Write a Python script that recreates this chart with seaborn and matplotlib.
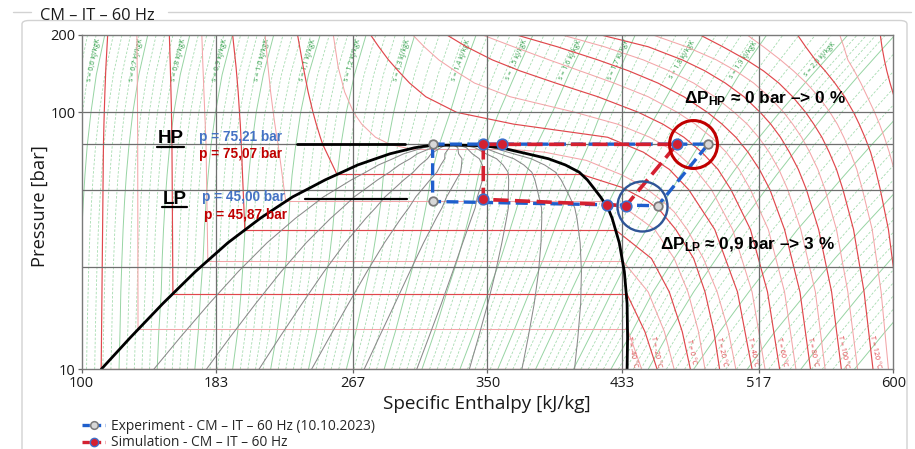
import numpy as np
import pandas as pd
import matplotlib
matplotlib.use("Agg")
import matplotlib.pyplot as plt
import seaborn as sns
from matplotlib.lines import Line2D
from matplotlib.patches import FancyBboxPatch

# ---------------------------------------------------------------- cycle data
exp_h = [316.2, 486.0, 454.9, 316.2, 316.2]
exp_p = [75.21, 75.21, 43.3, 45.00, 75.21]
sim_h = [347.4, 347.4, 423.4, 435.3, 466.6, 358.7, 347.4]
sim_p = [75.07, 45.87, 43.75, 43.3, 75.07, 75.07, 75.07]
exp_marked = 4          # corner points carrying a marker
sim_marked = 6

# ------------------------------------------------------- saturation dome CO2
sat_p = [10, 13.3, 18.03, 23.99, 31.05, 38.7, 42.5, 46.9, 50.5, 54.6, 58.5, 62.4,
         66, 69.0, 71.2, 72.8, 73.8, 74.3, 74.6]
sat_hl = [112, 130, 150, 170, 190, 210, 219.7, 230, 239.8, 250, 260.4, 270,
          281.1, 290, 298.8, 305, 311, 315, 330]
sat_hv = [436, 436.3, 436, 434.3, 431.2, 426.8, 424.2, 419.6, 415.7, 411.5, 406.5, 398,
          387.5, 374.4, 365, 358.5, 350, 343, 330]
quality = [0.1, 0.2, 0.3, 0.4, 0.5, 0.6, 0.7, 0.8, 0.9]

# ------------------------------------------------- isotherms (subcritical)
sub_T = [-40, -30, -20, -10, 0, 10, 20, 30]
sub_psat = [10.0, 14.3, 19.7, 26.5, 34.85, 45.0, 57.3, 72.1]
sub_hl = [112, 134.7, 156.2, 177.7, 200.5, 225.7, 257.3, 302.3]
sub_hv = [436, 436.3, 435.8, 433.1, 428.9, 421.5, 408, 361.2]
liq_p = [75, 80, 90, 100, 120, 150, 200]
liq_h = [
    [113.4, 113.5, 113.7, 113.9, 114.3, 114.9, 116.0],
    [134.5, 134.5, 134.4, 134.4, 134.3, 134.2, 134.0],
    [155.6, 155.5, 155.4, 155.3, 155.0, 154.6, 154.0],
    [176.6, 176.4, 176.1, 175.8, 175.3, 174.7, 174.0],
    [198.3, 198.1, 197.7, 197.2, 196.4, 195.1, 193.0],
    [221.0, 220.2, 219.0, 218.0, 216.4, 214.8, 213.0],
    [248.5, 247.0, 244.5, 242.5, 239.5, 236.5, 233.0],
    [290.0, 281.0, 272.5, 267.5, 262.0, 258.0, 255.0],
]
vap_p = [10, 14, 20, 27, 35, 41, 45, 51, 57, 65, 70]
nan = np.nan
vap_h = [
    [nan] * 11,
    [445, nan, nan, nan, nan, nan, nan, nan, nan, nan, nan],
    [454.5, 447, nan, nan, nan, nan, nan, nan, nan, nan, nan],
    [465, 459, 449, nan, nan, nan, nan, nan, nan, nan, nan],
    [475, 470, 462, 451, nan, nan, nan, nan, nan, nan, nan],
    [484, 480, 473.5, 465, 453, 438, nan, nan, nan, nan, nan],
    [493, 489.5, 484, 477, 466, 457, 449, 433, nan, nan, nan],
    [503, 498.5, 491.5, 483, 473, 465, 458, 447, 433, 411, 385],
]

# ----------------------------------------------- isotherms (supercritical)
sc_T = [40, 50, 60, 70, 80, 90, 100, 110, 120, 130, 140, 150, 160]
sc_p = [10, 20, 35, 50, 60, 70, 80, 90, 100, 115, 130, 145, 160, 180, 200]
sc_h = [
    [513, 504, 490, 474, 462, 446, 424, 366, 331, 312, 302, 295, 289, 283, 278],
    [521, 513, 501, 488, 478, 466, 450, 430, 404, 364, 342, 330, 320, 311, 304],
    [530, 522.5, 512, 500, 492, 482, 471, 458, 443, 418, 392, 370, 353, 337, 325],
    [540, 533, 523, 512, 505, 497, 488, 478, 467, 449, 428, 407, 388, 366, 347],
    [549, 542.5, 533, 524, 517.5, 510.5, 503, 494.5, 485.5, 471, 455, 437, 418, 393, 368],
    [558, 552, 543, 535, 529.5, 523.5, 517, 510, 502, 490, 477, 462, 446, 422, 396],
    [568, 562, 554, 546.5, 541.5, 536, 530.5, 524.5, 518, 508, 496.5, 484, 470, 449, 420],
    [578, 572, 565, 558, 553.5, 548.5, 543.5, 538, 532.5, 523.5, 514, 503, 491, 472.5, 452],
    [587.5, 582, 575.5, 569, 565, 560.5, 556, 551, 546, 538, 529.5, 520, 509.5, 495, 481],
    [597, 592.5, 587, 581, 577.5, 573.5, 569.5, 565.5, 561, 554, 546.5, 538.5, 530.5, 520, 510],
    [606, 602, 597, 592, 589, 586, 582.5, 579, 575.5, 570, 564, 558, 552, 546, 541],
    [616, 612, 607.5, 603, 600.5, 597.5, 594.5, 591.5, 588.5, 584, 580, 576, 572, 569.5, 567],
    [625, 622, 618.5, 615.5, 613.5, 611, 608.5, 606, 603.5, 600.5, 598, 596, 594.5, 593, 592],
]
t_label_T = [-40, -20, 0, 20, 40, 60, 80, 100, 120]

# ----------------------------------------------------------------- isentropes
s_major = [0.6, 0.7, 0.8, 0.9, 1.0, 1.1, 1.2, 1.3, 1.4, 1.5, 1.6, 1.7, 1.8,
           1.9, 2.0, 2.1, 2.2, 2.3, 2.4, 2.5]
s_label_max = 2.0
s_p = [10, 14, 20, 27, 35, 45, 57, 74, 100, 140, 200]
s_h = [
    [98, 98.3, 98.9, 99.4, 100.1, 101, 102, 103.4, 105.7, 109, 114.2],
    [123, 123.6, 124.1, 124.8, 125.5, 126.4, 127.5, 129.1, 131.5, 135.2, 140.7],
    [146.5, 147.5, 149, 149.6, 150.4, 151.4, 152.6, 154.2, 156.8, 160.7, 166.6],
    [169.7, 171.8, 173.3, 174.8, 175.6, 176.6, 177.9, 179.6, 182.4, 186.5, 192.8],
    [193, 196.1, 198.2, 199.6, 200.6, 201.6, 202.9, 204.7, 207.5, 211.9, 218.3],
    [216.4, 220.4, 223.6, 226.1, 227.3, 228.2, 229.6, 231.8, 234.9, 239.7, 246.9],
    [239.7, 244.6, 248.9, 252.5, 254.6, 256.1, 257.4, 259.6, 263, 268, 275.2],
    [263, 268.9, 274.3, 279, 281.9, 284.4, 285.9, 288.2, 292.2, 297.7, 305.2],
    [286.3, 293.2, 299.7, 305.4, 309.3, 312.7, 315.4, 320, 327, 334, 343],
    [309.6, 317.5, 325, 331.8, 336.6, 341, 344.4, 349, 357, 367, 378],
    [333, 341.8, 350.5, 358.2, 363.9, 369.3, 373.7, 380, 390, 400, 412],
    [356.3, 366, 375.9, 384.6, 391.2, 397.6, 404, 412, 420, 430, 441],
    [379.6, 390.4, 401.3, 411, 418.5, 425, 433, 443, 455, 468, 483],
    [402.9, 414.6, 426.6, 437, 448, 459, 469, 480, 491, 505, 522],
    [426, 439, 452, 465, 477, 489, 500, 513, 530, 550, 572],
    [449, 462, 477, 491, 503, 516, 528, 542, 559, 579, 601],
    [477, 493, 511, 527, 541, 556, 570, 586, 605, 627, 650],
    [510, 527, 547, 564, 580, 596, 611, 628, 648, 671, 696],
    [543, 561, 581, 599, 616, 633, 649, 667, 689, 713, 740],
    [576, 595, 616, 635, 653, 671, 688, 707, 730, 755, 783],
]

# ------------------------------------------------------------------- axes
h_ticks = [100, 183, 267, 350, 433, 517, 600]
p_ticks = [10, 100, 200]
h_grid = [183, 267, 350, 433, 517]
p_grid = [25, 50, 75, 100]

BLUE = "#1f5fcc"
RED = "#d42030"
TXT_BLUE = "#4472c4"
TXT_RED = "#c00000"
ISO_DARK = "#e0474c"
ISO_LIGHT = "#f3a5a8"
S_DARK = "#52b866"
S_LIGHT = "#a6dcb0"

sns.set_theme(style="white")
plt.rcParams["font.family"] = ["Open Sans", "DejaVu Sans"]
plt.rcParams["mathtext.fontset"] = "custom"
plt.rcParams["mathtext.rm"] = "Liberation Sans"
plt.rcParams["mathtext.bf"] = "Liberation Sans:bold"
plt.rcParams["mathtext.it"] = "Liberation Sans:italic"

W, H = 915, 449
fig = plt.figure(figsize=(W / 100, H / 100), dpi=100)
fig.patch.set_facecolor("white")


def fx(x):
    return x / W


def fy(y):
    return 1 - y / H


ax = fig.add_axes([fx(81.7), fy(369.3), (893.3 - 81.7) / W, (369.3 - 35) / H])
ax.set_yscale("log")
ax.set_xlim(100, 600)
ax.set_ylim(10, 200)
ax.set_facecolor("white")

# --- isentropes: labelled lines solid, four thin dashed ones in between
s_h_arr = np.array(s_h)
for k, s in enumerate(s_major):
    ax.plot(s_h_arr[k], s_p, color=S_DARK, lw=0.7, alpha=0.6, zorder=1)
    if k + 1 < len(s_major):
        for j in range(1, 5):
            hh = s_h_arr[k] + j / 5 * (s_h_arr[k + 1] - s_h_arr[k])
            ax.plot(hh, s_p, color=S_LIGHT, lw=0.6, ls=(0, (3, 2)), zorder=1)
for j in range(1, 4):
    hh = s_h_arr[0] - j / 5 * (s_h_arr[1] - s_h_arr[0])
    ax.plot(hh, s_p, color=S_LIGHT, lw=0.6, ls=(0, (3, 2)), zorder=1)


def local_angle(h_arr, p_arr, p0, dp=1.12):
    lp = np.log10(p_arr)
    h1 = np.interp(np.log10(p0 / dp), lp, h_arr)
    h2 = np.interp(np.log10(p0 * dp), lp, h_arr)
    a = ax.transData.transform([(h1, p0 / dp), (h2, p0 * dp)])
    d = a[1] - a[0]
    return np.degrees(np.arctan2(d[1], d[0]))


for k, s in enumerate(s_major):
    if s > s_label_max + 1e-9:
        continue
    p0 = 160
    h0 = np.interp(np.log10(p0), np.log10(s_p), s_h_arr[k])
    ang = local_angle(s_h_arr[k], s_p, p0)
    txt = f"s = {s:.1f} kJ/kgK".replace(".", ",")
    ax.annotate(txt, xy=(h0, p0), xytext=(-4, 0), textcoords="offset points",
                rotation=ang, rotation_mode="anchor", ha="center", va="center",
                fontsize=5.1, color="#2f9e48", zorder=2, annotation_clip=False)

# --- isotherms
liq_h_arr = np.array(liq_h)
vap_h_arr = np.array(vap_h, dtype=float)
for i, T in enumerate(sub_T):
    col, lw = (ISO_DARK, 0.85) if T % 20 == 0 else (ISO_LIGHT, 0.75)
    lp = [sub_psat[i]] + liq_p
    lh = [sub_hl[i]] + list(liq_h_arr[i])
    ax.plot(lh, lp, color=col, lw=lw, zorder=2)
    ax.plot([sub_hl[i], sub_hv[i]], [sub_psat[i], sub_psat[i]], color=col, lw=lw, zorder=2)
    mask = ~np.isnan(vap_h_arr[i])
    vp = [sub_psat[i]] + [p for p, m in zip(vap_p[::-1], mask[::-1]) if m]
    vh = [sub_hv[i]] + [h for h, m in zip(vap_h_arr[i][::-1], mask[::-1]) if m]
    ax.plot(vh, vp, color=col, lw=lw, zorder=2)

sc_h_arr = np.array(sc_h)
for i, T in enumerate(sc_T):
    col, lw = (ISO_DARK, 0.85) if T % 20 == 0 else (ISO_LIGHT, 0.75)
    ax.plot(sc_h_arr[i], sc_p, color=col, lw=lw, zorder=2)

# isotherm labels near the bottom edge
p_lab = 11.7
for T in t_label_T:
    if T in sub_T:
        i = sub_T.index(T)
        if T == -40:
            h0 = sub_hv[i]
        else:
            mask = ~np.isnan(vap_h_arr[i])
            pp = [p for p, m in zip(vap_p, mask) if m] + [sub_psat[i]]
            hh = [h for h, m in zip(vap_h_arr[i], mask) if m] + [sub_hv[i]]
            h0 = np.interp(np.log10(p_lab), np.log10(pp), hh)
    else:
        i = sc_T.index(T)
        h0 = np.interp(np.log10(p_lab), np.log10(sc_p), sc_h_arr[i])
    ax.annotate(f"T = {T} °C", xy=(h0, p_lab), xytext=(3, 0), textcoords="offset points",
                rotation=-78, rotation_mode="anchor", ha="center", va="center",
                fontsize=5.1, color=ISO_DARK, zorder=2)

# --- quality lines and saturation dome
hl = np.array(sat_hl)
hv = np.array(sat_hv)
for q in quality:
    ax.plot(hl + q * (hv - hl), sat_p, color="#8a8a8a", lw=0.75, zorder=3)
dome_h = list(sat_hl) + list(sat_hv[::-1])
dome_p = list(sat_p) + list(sat_p[::-1])
ax.plot(dome_h, dome_p, color="black", lw=2.0, zorder=4, solid_joinstyle="round")

# --- grid
for h in h_grid:
    ax.axvline(h, color="#6f6f6f", lw=0.9, zorder=3.5)
for p in p_grid:
    ax.axhline(p, color="#6f6f6f", lw=0.9, zorder=3.5)

# --- refrigeration cycles
cycle = pd.concat([
    pd.DataFrame({"h": exp_h, "p": exp_p, "run": "Experiment", "step": range(len(exp_h))}),
    pd.DataFrame({"h": sim_h, "p": sim_p, "run": "Simulation", "step": range(len(sim_h))}),
], ignore_index=True)
sns.lineplot(data=cycle[cycle.run == "Experiment"], x="h", y="p", sort=False, estimator=None,
             color=BLUE, lw=2.4, dashes=False, ax=ax, legend=False, zorder=6)
ax.lines[-1].set_dashes((3.6, 1.6))
sns.lineplot(data=cycle[cycle.run == "Simulation"], x="h", y="p", sort=False, estimator=None,
             color=RED, lw=2.6, dashes=False, ax=ax, legend=False, zorder=6.2)
ax.lines[-1].set_dashes((4.2, 1.8))

exp_pts = cycle[cycle.run == "Experiment"].head(exp_marked)
sim_pts = cycle[cycle.run == "Simulation"].head(sim_marked)
sns.scatterplot(data=exp_pts, x="h", y="p", s=38, color="#d8d8d8", edgecolor="#7a7a7a",
                linewidth=1.3, ax=ax, legend=False, zorder=7)
sns.scatterplot(data=sim_pts, x="h", y="p", s=58, color=RED, edgecolor="#3d6fc9",
                linewidth=1.2, ax=ax, legend=False, zorder=7.2)

# highlight circles around the compressor outlet / inlet states
hp_c = ((exp_h[1] + sim_h[4]) / 2, (exp_p[1] + sim_p[4]) / 2)
lp_c = ((exp_h[2] + sim_h[3]) / 2, (exp_p[2] + sim_p[3]) / 2)
ax.plot([hp_c[0]], [hp_c[1]], marker="o", ms=34.5, mfc="none", mec="#c00000", mew=2.2, zorder=8)
ax.plot([lp_c[0]], [lp_c[1]], marker="o", ms=36, mfc="none", mec="#2f5597", mew=1.7, zorder=8)

# pressure level markers next to the HP / LP labels
ax.plot([232.6, 299.2], [exp_p[0], exp_p[0]], color="black", lw=2.0, zorder=5)
ax.plot([237.6, 300.4], [sim_p[1], sim_p[1]], color="black", lw=1.6, zorder=5)

# --- ticks, spines, labels
ax.set_xticks(h_ticks)
ax.set_xticklabels([str(t) for t in h_ticks])
ax.set_yticks(p_ticks)
ax.set_yticklabels([str(t) for t in p_ticks])
ax.yaxis.set_minor_locator(matplotlib.ticker.NullLocator())
ax.tick_params(axis="both", which="major", length=3, width=0.9, color="#666666",
               labelsize=10.5, labelcolor="#1a1a1a", pad=1.5, direction="out")
ax.tick_params(left=True, bottom=True)
for sp in ax.spines.values():
    sp.set_color("#7a7a7a")
    sp.set_linewidth(1.0)
    sp.set_zorder(9)

ax.set_xlabel("Specific Enthalpy [kJ/kg]", fontsize=13.6, color="#1a1a1a")
ax.set_ylabel("Pressure [bar]", fontsize=13.2, color="#1a1a1a")
ax.xaxis.set_label_coords(0.4988, -0.104)
ax.xaxis.label.set_va("center")
ax.yaxis.set_label_coords(-0.0514, 0.488)
ax.yaxis.label.set_va("center")

# --- annotations
BF = "Liberation Sans"
fig.text(fx(158), fy(143), "HP", fontsize=13.5, weight="bold", family=BF, color="black",
         ha="left", va="baseline")
fig.text(fx(163), fy(204), "LP", fontsize=13.5, weight="bold", family=BF, color="black",
         ha="left", va="baseline")
fig.add_artist(Line2D([fx(157), fx(184)], [fy(146.5), fy(146.5)], color="black", lw=1.6))
fig.add_artist(Line2D([fx(162), fx(187)], [fy(207), fy(207)], color="black", lw=1.6))

fig.text(fx(199.3), fy(141.5), f"p = {exp_p[0]:.2f} bar".replace(".", ","), fontsize=9.8,
         weight="bold", family=BF, color=TXT_BLUE, ha="left", va="baseline")
fig.text(fx(199.3), fy(158), f"p = {sim_p[0]:.2f} bar".replace(".", ","), fontsize=9.8,
         weight="bold", family=BF, color=TXT_RED, ha="left", va="baseline")
fig.text(fx(201.7), fy(201), f"p = {exp_p[3]:.2f} bar".replace(".", ","), fontsize=9.8,
         weight="bold", family=BF, color=TXT_BLUE, ha="left", va="baseline")
fig.text(fx(204), fy(218.5), f"p = {sim_p[1]:.2f} bar".replace(".", ","), fontsize=9.8,
         weight="bold", family=BF, color=TXT_RED, ha="left", va="baseline")

fig.text(fx(684), fy(103.5), r"$\mathbf{\Delta P}_{\mathbf{HP}}$" + " ≈ 0 bar –> 0 %",
         fontsize=12.4, weight="bold", family=BF, color="black", ha="left", va="baseline")
fig.text(fx(660), fy(249.5), r"$\mathbf{\Delta P}_{\mathbf{LP}}$" + " ≈ 0,9 bar –> 3 %",
         fontsize=12.4, weight="bold", family=BF, color="black", ha="left", va="baseline")

# --- legend
handles = [
    Line2D([0], [0], color=BLUE, lw=2.4, dashes=(2.2, 1.2), marker="o", ms=5.5,
           mfc="#d8d8d8", mec="#7a7a7a", mew=1.1),
    Line2D([0], [0], color=RED, lw=2.4, dashes=(2.2, 1.2), marker="o", ms=6,
           mfc=RED, mec="#3d6fc9", mew=1.0),
]
labels = ["Experiment - CM – IT – 60 Hz (10.10.2023)", "Simulation - CM – IT – 60 Hz"]
fig.legend(handles, labels, loc="upper left", bbox_to_anchor=(fx(82), fy(419)),
           frameon=False, fontsize=9.9, handlelength=1.7, handletextpad=0.4,
           labelspacing=0.1, borderpad=0, borderaxespad=0, numpoints=1)

# --- group box frame with caption
frame_col = "#d2d2d2"
fig.add_artist(Line2D([fx(13), fx(31)], [fy(11.5), fy(11.5)], color=frame_col, lw=1.0))
fig.add_artist(Line2D([fx(168), fx(911)], [fy(11.5), fy(11.5)], color=frame_col, lw=1.0))
fig.add_artist(FancyBboxPatch((fx(22), fy(470)), fx(907) - fx(22), fy(20.5) - fy(470),
                              boxstyle="round,pad=0,rounding_size=0.008",
                              transform=fig.transFigure, fc="none", ec=frame_col, lw=1.0))
fig.text(fx(40), fy(15.5), "CM – IT – 60 Hz", fontsize=11.8, color="#1a1a1a",
         ha="left", va="center")

fig.savefig("out.png", dpi=100, facecolor="white")
